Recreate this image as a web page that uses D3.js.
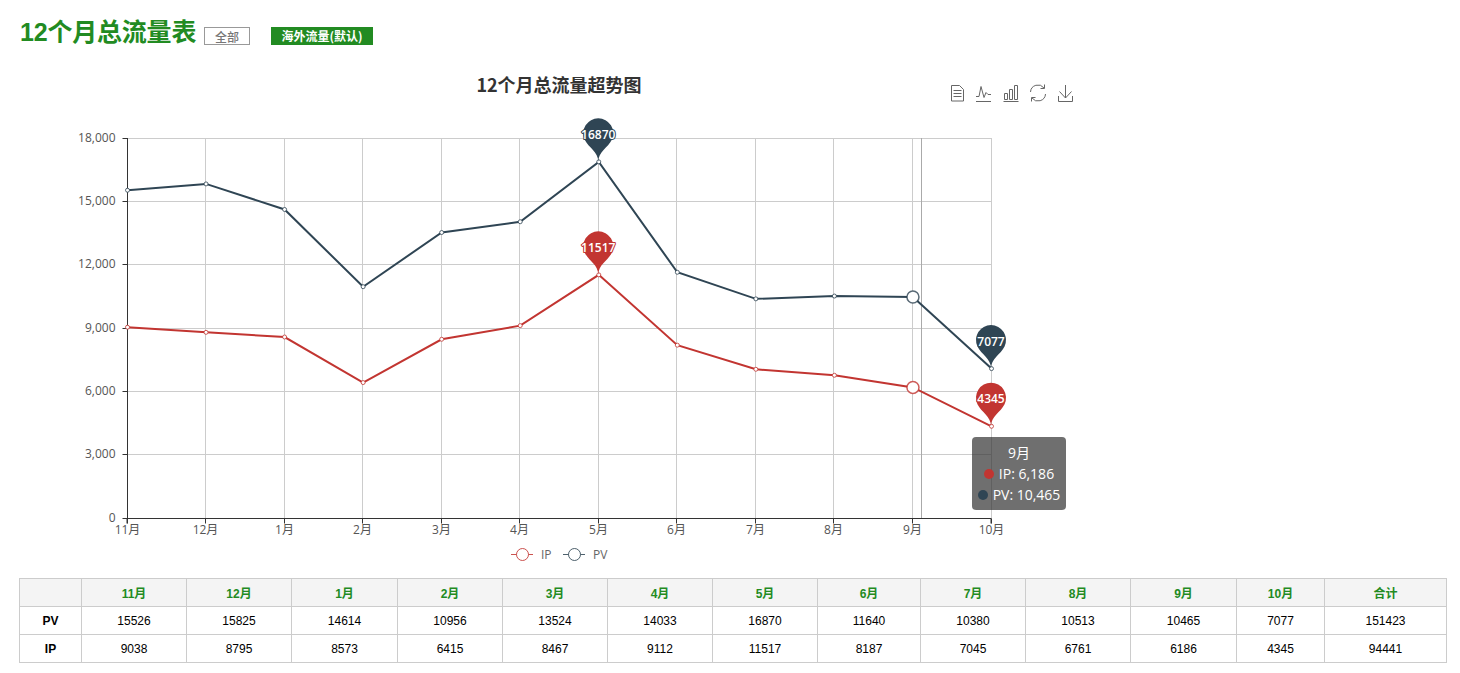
<!DOCTYPE html>
<html><head><meta charset="utf-8">
<script src="https://cdnjs.cloudflare.com/ajax/libs/d3/7.8.5/d3.min.js"></script>
<style>
html,body{margin:0;padding:0;background:#fff;overflow:hidden}
#wrap{position:relative;width:1460px;height:673px;font-family:"Liberation Sans","Noto Sans CJK SC",sans-serif}
svg{position:absolute;left:0;top:0}
.h1{position:absolute;left:20px;top:16px;font:bold 25px/32px "Liberation Sans","Noto Sans CJK SC";color:#228b22;white-space:nowrap;letter-spacing:-.2px}
.b1{position:absolute;left:204px;top:27px;width:44px;height:16px;border:1px solid #999;color:#777;font:500 12px/17px "Noto Sans CJK SC";text-align:center}
.b2{position:absolute;left:271px;top:27px;width:102px;height:18px;background:#228b22;color:#fff;font:bold 12px/18px "Noto Sans CJK SC";text-align:center}
table{position:absolute;left:19px;top:578px;border-collapse:collapse;table-layout:fixed;width:1428px;font:12px "Liberation Sans","Noto Sans CJK SC";color:#000}
td,th{border:1px solid #ccc;height:27px;padding:0;text-align:center;box-sizing:border-box}
thead th{background:#f4f4f4;color:#228b22;font-weight:bold}
tbody th{font-weight:bold}
.tip{position:absolute;left:972px;top:437px;width:94px;height:73px;background:rgba(50,50,50,.7);border-radius:4px;color:#fff;font:14px/21px "Open Sans","Noto Sans CJK SC";text-align:center;padding-top:5px;box-sizing:border-box;white-space:nowrap}
.tip i{display:inline-block;width:10px;height:10px;border-radius:5px;margin-right:5px}
</style></head><body>
<div id="wrap">
<div class="h1">12个月总流量表</div><div class="b1">全部</div><div class="b2">海外流量(默认)</div>
<svg id="c" width="1460" height="673"></svg>
<table id="t"></table>
<div id="tip" class="tip"></div>
</div>
<script>
const months=["11月","12月","1月","2月","3月","4月","5月","6月","7月","8月","9月","10月"];
const pv=[15526,15825,14614,10956,13524,14033,16870,11640,10380,10513,10465,7077];
const ip=[9038,8795,8573,6415,8467,9112,11517,8187,7045,6761,6186,4345];
const pvTotal=151423, ipTotal=94441;
const yTicks=[0,3000,6000,9000,12000,15000,18000];
const hoverMonth="9月";
const cIP="#c23531", cPV="#2f4554";
const cjk='"Open Sans","Noto Sans CJK SC",sans-serif';

const svg=d3.select("#c");
const x=d3.scalePoint().domain(months).range([127,991]);
const y=d3.scaleLinear().domain([0,18000]).range([518,138]);
const snap=v=>Math.floor(v)+.5;

// grid
svg.append("g").selectAll("line").data(yTicks.slice(1)).join("line")
 .attr("x1",127).attr("x2",992).attr("y1",d=>snap(y(d))).attr("y2",d=>snap(y(d))).attr("stroke","#ccc");
svg.append("g").selectAll("line").data(months.slice(1)).join("line")
 .attr("x1",d=>snap(x(d))).attr("x2",d=>snap(x(d))).attr("y1",138).attr("y2",519).attr("stroke","#ccc");
// axis pointer
svg.append("line").attr("x1",921.5).attr("x2",921.5).attr("y1",138).attr("y2",519).attr("stroke","#aaa");

// axes
const ax=d3.axisBottom(x).tickSizeOuter(0).tickSize(5).offset(0);
const gx=svg.append("g").attr("transform","translate(0,518.5)").call(ax);
const ay=d3.axisLeft(y).tickValues(yTicks).tickFormat(d3.format(",")).tickSize(5).tickSizeOuter(0).offset(0);
const gy=svg.append("g").attr("transform","translate(127.5,0)").call(ay);
[gx,gy].forEach(g=>{g.attr("font-family",cjk).attr("font-size",12);
 g.selectAll("path,line").attr("stroke","#333");g.selectAll("text").attr("fill","#555");});
gx.selectAll(".tick").attr("transform",d=>`translate(${snap(x(d))},0)`);
gy.selectAll(".tick").attr("transform",d=>`translate(0,${snap(y(d))})`);
gx.selectAll("text").attr("dy","0.55em").attr("y",9);
gy.selectAll("text").attr("x",-12).attr("dy","0.25em");

// lines
const line=v=>d3.line().x((d,i)=>x(months[i])+.5).y(d=>y(d))(v);
function pin(px,py){
 const w=30,h=50,r=w/2,dy=r*r/(h-r),cy=py-h+r+dy,a=Math.asin(dy/r),dx=Math.cos(a)*r;
 const tx=Math.sin(a),ty=Math.cos(a),c1=r*.6,c2=r*.7;
 const p=d3.path();
 p.moveTo(px-dx,cy+dy);
 p.arc(px,cy,r,Math.PI-a,Math.PI*2+a);
 p.bezierCurveTo(px+dx-tx*c1,cy+dy+ty*c1,px,py-c2,px,py);
 p.bezierCurveTo(px,py-c2,px-dx+tx*c1,cy+dy+ty*c1,px-dx,cy+dy);
 p.closePath();
 return p.toString();
}
[[ip,cIP],[pv,cPV]].forEach(([v,c])=>{
 svg.append("path").attr("d",line(v)).attr("fill","none").attr("stroke",c).attr("stroke-width",2);
 svg.append("g").selectAll("circle").data(v).join("circle")
  .attr("cx",(d,i)=>x(months[i])+.5).attr("cy",d=>y(d))
  .attr("r",(d,i)=>months[i]===hoverMonth?6:2)
  .attr("fill","#fff").attr("stroke",c).attr("stroke-opacity",.8)
  .attr("stroke-width",(d,i)=>months[i]===hoverMonth?1.5:1);
 const mx=d3.max(v),mn=d3.min(v);
 [mx,mn].forEach(m=>{
  const px=x(months[v.indexOf(m)]),py=y(m);
  svg.append("path").attr("d",pin(px,py)).attr("fill",c);
  svg.append("text").attr("x",px).attr("y",py-23).attr("text-anchor","middle").attr("fill","#fff")
   .attr("stroke",c).attr("stroke-width",2).attr("paint-order","stroke").attr("stroke-linejoin","round")
   .attr("font-family",cjk).attr("font-weight",600).attr("font-size",12).text(m);
 });
});

// title
svg.append("text").attr("x",559).attr("y",92).attr("text-anchor","middle")
 .attr("font-family",'"Noto Sans CJK SC"').attr("font-weight","bold").attr("font-size",18).attr("fill","#333").text("12个月总流量超势图");

// legend
[["IP",cIP,511,541],["PV",cPV,563,593]].forEach(([n,c,lx,tx])=>{
 svg.append("line").attr("x1",lx).attr("x2",lx+22).attr("y1",554.5).attr("y2",554.5).attr("stroke",c).attr("stroke-opacity",.85);
 svg.append("circle").attr("cx",lx+11.5).attr("cy",554.5).attr("r",6).attr("fill","#fff").attr("stroke",c).attr("stroke-opacity",.85);
 svg.append("text").attr("x",tx).attr("y",559).attr("font-family",cjk).attr("font-size",12).attr("fill","#666").text(n);
});

// toolbox icons
const tb=svg.append("g").attr("fill","none").attr("stroke","#666").attr("stroke-width",1);
tb.append("path").attr("d","M951.5 85.5h8l4 4v11.5h-12zM953.5 90.5h8M953.5 93.5h8M953.5 96.5h8");
tb.append("path").attr("d","M976 101.5h15M976 96.5h3l2-10 3 11 2-5 2 2h3");
tb.append("path").attr("d","M1003.5 101.5h15M1004.5 93.5h3v6h-3zM1009.5 89.5h3v10h-3zM1014.5 85.5h3v14h-3z");
tb.append("path").attr("d","M1030.5 92a7.5 7.5 0 0 1 13.5-4M1045.5 94a7.5 7.5 0 0 1-13.5 4M1044.5 84.5v4h-4M1031.5 101.5v-4h4");
tb.append("path").attr("d","M1058.5 96v5.5h14V96M1065.5 85v13M1059.5 91.5l6 6.5 6-6.5");

// table
const widths=[62,105,105,106,105,105,105,105,103,105,105,106,88,122];
const t=d3.select("#t");
t.append("colgroup").selectAll("col").data(widths).join("col").style("width",d=>d+"px");
const head=["",...months,"合计"];
t.append("thead").append("tr").selectAll("th").data(head).join("th").text(d=>d);
const rows=[["PV",...pv,pvTotal],["IP",...ip,ipTotal]];
const tr=t.append("tbody").selectAll("tr").data(rows).join("tr");
tr.selectAll("*").data(d=>d).join(enter=>enter.append((d,i)=>document.createElement(i===0?"th":"td"))).text(d=>d);
d3.selectAll("thead th").style("height","28px");
d3.selectAll("tbody tr > *").style("height","28px");

// tooltip
const hi=months.indexOf(hoverMonth), fmt=d3.format(",");
const tip=d3.select("#tip");
tip.append("div").text(hoverMonth);
[["IP",ip[hi],cIP],["PV",pv[hi],cPV]].forEach(([n,v,c])=>{
 const r=tip.append("div");
 r.append("i").style("background",c);
 r.append("span").text(n+": "+fmt(v));
});
</script>
</body></html>
